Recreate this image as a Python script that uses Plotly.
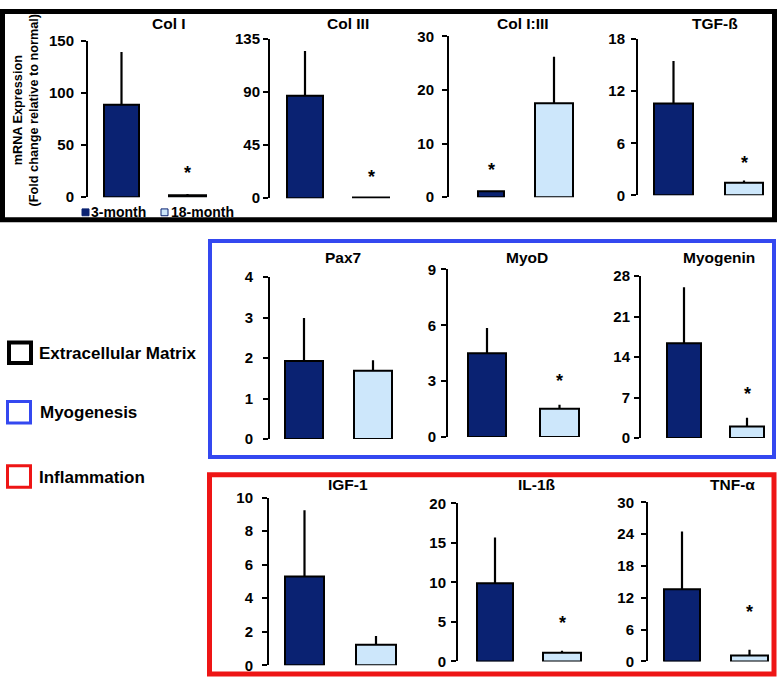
import plotly.graph_objects as go

# ---------------- data ----------------
panels = ["Col I", "Col III", "Col I:III", "TGF-ß", "Pax7", "MyoD", "Myogenin",
          "IGF-1", "IL-1ß", "TNF-α"]
groups = ["3-month", "18-month"]
mean_3m = [89, 87, 1.1, 10.6, 1.93, 4.5, 16.4, 5.3, 9.9, 13.6]
sd_3m = [50.7, 38, 0, 4.9, 1.06, 1.36, 9.7, 3.94, 5.8, 10.9]
mean_18m = [2.0, 0.5, 17.5, 1.45, 1.69, 1.52, 2.0, 1.22, 1.1, 1.1]
sd_18m = [1.0, 0.2, 8.7, 0.25, 0.26, 0.21, 1.5, 0.52, 0.26, 1.1]
y_max = [150, 135, 30, 18, 4, 9, 28, 10, 20, 30]
y_step = [50, 45, 10, 6, 1, 3, 7, 2, 5, 6]
star_bar = [1, 1, 0, 1, None, 1, 1, None, 1, 1]      # which group is significant
star_level = [26, 20.7, 5.6, 4.05, None, 3.19, 8.1, None, 5.3, 9.9]
sections = ["Extracellular Matrix", "Myogenesis", "Inflammation"]
y_label = "mRNA Expression<br>(Fold change relative to normal)"

# ---------------- layout geometry (pixels) ----------------
W, H = 777, 685
# axis_x, center0, center1, zero_y, top_y, width_dark, width_light, label gap
geom = [
    (88, 121.5, 187.5, 193, 33, 37, 39, 4),
    (270, 305, 371, 194, 31, 38, 38, 0),
    (449, 491, 554, 193, 28, 28, 40, 5),
    (638, 673.5, 744, 191, 31, 41, 40, 3),
    (270, 304, 373, 441, 275, 40, 40, 7),
    (448, 487, 559.5, 439, 267, 40, 41, 2),
    (641, 684, 747, 440, 274, 36, 36, 1),
    (269, 304.5, 376, 673, 501, 41, 42, 6),
    (458, 495, 562, 669, 507, 38, 40, 2),
    (648, 682, 749.5, 669, 506, 38, 39, 4),
]
title_pos = [(169, 15), (348, 15), (523, 15), (715, 15), (343, 255), (527, 255),
             (719, 255), (348, 488), (537, 488), (732, 488)]
DARK = "#0a2272"
LIGHT = "#cde7fb"
FONT = "Liberation Sans, Arial, sans-serif"

def px(x):
    return x / W

def py(y):
    return 1 - y / H

fig = go.Figure()
layout = dict(width=W, height=H, margin=dict(l=0, r=0, t=0, b=0),
              paper_bgcolor="white", plot_bgcolor="rgba(0,0,0,0)",
              showlegend=False, barmode="overlay",
              font=dict(family=FONT, color="black"))
annotations = []
shapes = []

for i, name in enumerate(panels):
    ax, c0, c1, zy, ty, wd, wl, gap = geom[i]
    s = c1 - c0
    x_end = min(c1 + s / 2, W - 1)
    sfx = "" if i == 0 else str(i + 1)
    xa, ya = "x" + sfx, "y" + sfx
    means = [mean_3m[i], mean_18m[i]]
    sds = [sd_3m[i], sd_18m[i]]
    widths = [(wd - 2) / s, (wl - 2) / s]
    colors = [DARK, LIGHT]
    for g in range(2):
        fig.add_trace(go.Bar(
            x=[g], y=[means[g]], name=groups[g], width=[widths[g]],
            marker=dict(color=colors[g], line=dict(color="black", width=2)),
            error_y=dict(type="data", symmetric=False, array=[sds[g]],
                         arrayminus=[0], color="black", thickness=2.2, width=0,
                         visible=sds[g] > 0),
            xaxis=xa, yaxis=ya, showlegend=False))
    layout["xaxis" + sfx] = dict(domain=[px(ax), px(x_end)],
                                 range=[(ax - c0) / s, (x_end - c0) / s],
                                 visible=False, anchor=ya, fixedrange=True)
    layout["yaxis" + sfx] = dict(domain=[py(zy), py(ty)], range=[0, y_max[i]],
                                 anchor=xa, showline=True, linecolor="black",
                                 linewidth=2, ticks="outside", ticklen=5,
                                 tickwidth=2, tickcolor="black", showgrid=False,
                                 zeroline=False, ticklabelstandoff=gap,
                                 tickvals=list(range(0, y_max[i] + 1, y_step[i])),
                                 tickfont=dict(size=15, family=FONT, weight="bold"),
                                 fixedrange=True)
    tx, tyy = title_pos[i]
    annotations.append(dict(text=name, x=px(tx), y=py(tyy), xref="paper",
                            yref="paper", showarrow=False, xanchor="center",
                            yanchor="middle",
                            font=dict(size=15.5, family=FONT, weight="bold")))
    if star_bar[i] is not None:
        annotations.append(dict(text="*", x=star_bar[i], y=star_level[i],
                                xref=xa, yref=ya, showarrow=False,
                                xanchor="center", yanchor="middle", yshift=-3,
                                font=dict(size=18, family=FONT, weight="bold")))

# y-axis title
annotations.append(dict(text=y_label, x=px(26), y=py(104), xref="paper",
                        yref="paper", showarrow=False, textangle=-90,
                        xanchor="center", yanchor="middle",
                        font=dict(size=12.7, family=FONT, weight="bold")))

# inner legend (3-month / 18-month)
leg = [(82, 89, DARK, DARK), (161, 169, LIGHT, DARK)]
for g, (sx, txx, fc, lc) in enumerate(leg):
    shapes.append(dict(type="rect", xref="paper", yref="paper",
                       x0=px(sx), x1=px(sx + 7), y0=py(212), y1=py(205),
                       fillcolor=fc, line=dict(color=lc, width=1)))
    annotations.append(dict(text=groups[g], x=px(txx), y=py(208.5), xref="paper",
                            yref="paper", showarrow=False, xanchor="left",
                            yanchor="middle",
                            font=dict(size=14, family=FONT, weight="bold")))

# section boxes
box_colors = ["black", "#3448f0", "#ee1515"]
boxes = [(2.5, 774.5, 2.5, 216, 5), (210, 774, 238, 459.5, 4),
         (209.5, 774, 477.5, 682, 5)]
for (x0, x1, y0, y1, lw), col in zip(boxes, box_colors):
    shapes.append(dict(type="rect", xref="paper", yref="paper",
                       x0=px(x0), x1=px(x1), y0=py(y1), y1=py(y0),
                       line=dict(color=col, width=lw), fillcolor="rgba(0,0,0,0)"))

# left legend for sections
key = [(7, 33, 340, 365, 4, 37, 353), (6, 32, 401, 426, 3, 38, 414),
       (6, 32, 467, 492, 3, 37, 480)]
for (x0, x1, y0, y1, lw, tx, tyy), col, lab in zip(key, box_colors, sections):
    shapes.append(dict(type="rect", xref="paper", yref="paper",
                       x0=px(x0 + lw / 2), x1=px(x1 - lw / 2),
                       y0=py(y1 - lw / 2), y1=py(y0 + lw / 2),
                       line=dict(color=col, width=lw), fillcolor="rgba(0,0,0,0)"))
    annotations.append(dict(text=lab, x=px(tx), y=py(tyy), xref="paper",
                            yref="paper", showarrow=False, xanchor="left",
                            yanchor="middle",
                            font=dict(size=17, family=FONT, weight="bold")))

layout["annotations"] = annotations
layout["shapes"] = shapes
fig.update_layout(**layout)
fig.write_html("out.html", config=dict(displayModeBar=False),
               post_script="document.body.style.margin='0';"
                           "document.body.style.overflow='hidden';")
